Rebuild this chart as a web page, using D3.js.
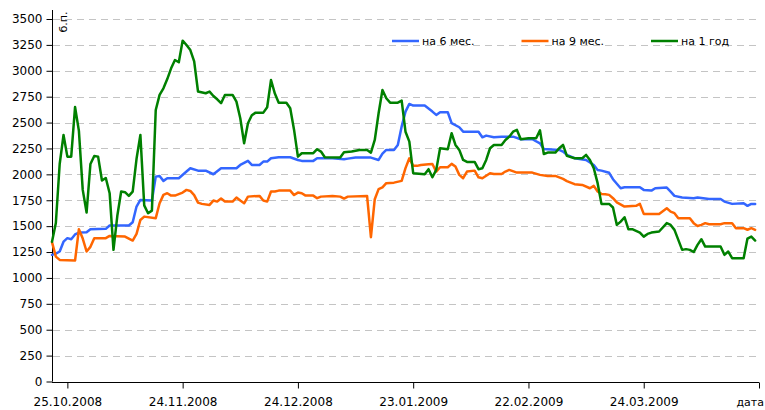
<!DOCTYPE html>
<html lang="ru">
<head>
<meta charset="utf-8">
<title>Спреды: на 6 мес., на 9 мес., на 1 год</title>
<script src="https://d3js.org/d3.v7.min.js"></script>
<style>
    body { margin: 0; background: #fff; }
    text { font-family: "DejaVu Sans", sans-serif; font-size: 12px; fill: #000; }
    .grid line { stroke: #c4c4c4; stroke-width: 1.2px; stroke-dasharray: 7,5; }
    .axis path { display: none; }
    .axis line { stroke: #000; }
    .series { fill: none; stroke-width: 2.5px; stroke-linejoin: round; stroke-linecap: round; }
</style>
</head>
<body>
<script type="text/javascript">

    var w = 765;
    var h = 410;

    // day number counted from 21.10.2008, value in б.п.
    var startDate = new Date(2008, 9, 21);
    var endDate = new Date(2009, 3, 23);

    var seriesNames = ["на 6 мес.", "на 9 мес.", "на 1 год"];
    var seriesColors = ["#3366ff", "#ff6600", "#008000"];

    var months6 = [[0,1223],[1,1235],[2,1255],[3,1350],[4,1384],[5,1374],[6,1420],[7,1438],[9,1442],[10,1471],
        [14,1474],[15,1506],[20,1506],[21,1538],[22,1689],[23,1753],[26,1747],[27,1978],[28,1985],[29,1937],
        [30,1963],[33,1963],[35,2027],[36,2059],[38,2036],[40,2036],[42,2001],[44,2059],[48,2059],[49,2091],
        [51,2130],[52,2091],[54,2091],[55,2123],[56,2123],[57,2156],[59,2165],[62,2165],[64,2139],[65,2130],
        [68,2130],[69,2156],[73,2156],[76,2146],[77,2152],[79,2162],[83,2162],[85,2139],[86,2200],[87,2236],
        [89,2236],[90,2284],[91,2461],[92,2606],[93,2680],[94,2664],[97,2664],[99,2606],[100,2574],[101,2600],
        [103,2600],[104,2494],[106,2455],[107,2412],[111,2412],[112,2358],[113,2374],[115,2358],[117,2364],[120,2364],
        [122,2339],[125,2339],[127,2300],[128,2245],[132,2236],[133,2220],[134,2188],[136,2156],[139,2139],[141,2091],
        [142,2043],[143,2036],[145,2015],[146,1953],[148,1866],[149,1876],[153,1876],[154,1850],[156,1843],[157,1866],
        [160,1872],[161,1834],[162,1792],[164,1776],[167,1770],[168,1776],[171,1763],[174,1763],[175,1737],[177,1715],
        [180,1721],[181,1696],[182,1715],[183,1715]];

    var months9 = [[0,1345],[1,1206],[2,1174],[6,1168],[7,1470],[8,1380],[9,1255],[10,1300],[11,1384],[14,1384],
        [15,1406],[19,1399],[21,1361],[22,1425],[23,1560],[24,1592],[27,1577],[28,1721],[29,1802],[30,1818],
        [31,1795],[32,1795],[34,1824],[35,1850],[36,1840],[37,1800],[38,1727],[39,1715],[41,1705],[42,1747],
        [43,1737],[44,1766],[45,1737],[47,1737],[48,1776],[49,1747],[50,1721],[51,1785],[54,1792],[55,1747],
        [56,1737],[57,1834],[58,1834],[59,1843],[62,1843],[63,1800],[64,1824],[65,1818],[66,1795],[68,1795],
        [69,1770],[70,1785],[73,1790],[75,1785],[76,1766],[77,1785],[82,1792],[83,1393],[84,1760],[85,1857],
        [86,1875],[87,1915],[89,1920],[91,1937],[92,2060],[93,2155],[94,2082],[95,2082],[96,2091],[98,2098],
        [99,2100],[100,2027],[101,2069],[103,2069],[104,2101],[105,2075],[106,1995],[107,1963],[108,2027],[110,2036],
        [111,1972],[112,1963],[114,2011],[115,2004],[117,2004],[118,2027],[119,2043],[121,2017],[125,2017],[127,1995],
        [129,1985],[131,1985],[133,1956],[134,1935],[136,1905],[138,1898],[140,1866],[141,1889],[142,1834],[143,1811],
        [144,1808],[145,1802],[146,1770],[147,1730],[149,1689],[152,1696],[153,1715],[154,1618],[158,1618],[160,1673],
        [161,1640],[162,1625],[163,1577],[166,1577],[167,1529],[168,1502],[169,1512],[170,1529],[171,1519],[174,1519],
        [175,1529],[177,1529],[178,1480],[180,1480],[181,1465],[182,1480],[183,1464]];

    var year1 = [[0,1350],[1,1530],[2,2100],[3,2380],[4,2171],[5,2171],[6,2650],[7,2420],[8,1850],[9,1631],
        [10,2100],[11,2178],[12,2171],[13,1940],[14,1965],[15,1818],[16,1271],[17,1600],[18,1834],[19,1828],
        [20,1792],[21,1834],[22,2150],[23,2381],[24,1700],[25,1625],[26,1650],[27,2622],[28,2767],[29,2831],
        [30,2920],[31,3024],[32,3104],[33,3082],[34,3291],[35,3249],[36,3200],[37,3090],[38,2800],[40,2783],
        [41,2799],[42,2757],[43,2725],[44,2687],[45,2767],[47,2767],[48,2702],[49,2542],[50,2300],[51,2494],
        [52,2570],[53,2596],[55,2596],[56,2648],[57,2911],[58,2780],[59,2692],[61,2692],[62,2638],[63,2429],
        [64,2171],[65,2204],[68,2204],[69,2243],[70,2220],[71,2165],[75,2162],[76,2214],[78,2220],[80,2236],
        [82,2236],[83,2210],[84,2332],[85,2590],[86,2815],[87,2735],[88,2692],[90,2692],[91,2712],[92,2412],
        [93,2316],[94,2011],[97,2001],[98,2050],[99,1972],[100,2043],[101,2252],[103,2243],[104,2397],[105,2284],
        [106,2236],[107,2139],[108,2120],[110,2120],[111,2050],[112,2059],[113,2139],[114,2252],[115,2284],[117,2284],
        [118,2332],[119,2364],[120,2412],[121,2429],[122,2339],[124,2349],[126,2349],[127,2425],[128,2197],[129,2210],
        [131,2210],[132,2252],[133,2284],[134,2178],[136,2156],[138,2156],[139,2188],[140,2139],[141,2059],[142,1915],
        [143,1715],[145,1715],[146,1680],[147,1512],[148,1544],[149,1586],[150,1471],[151,1471],[153,1438],[154,1399],
        [155,1425],[156,1438],[158,1448],[160,1529],[161,1512],[162,1464],[163,1367],[164,1271],[165,1278],[166,1271],
        [167,1250],[168,1319],[169,1374],[170,1303],[174,1303],[175,1223],[176,1255],[177,1191],[180,1191],[181,1380],
        [182,1399],[183,1361]];

    var yTicks = d3.range(0, 3501, 250);
    var xTickLabels = ["25.10.2008", "24.11.2008", "24.12.2008", "23.01.2009", "22.02.2009", "24.03.2009"];
    var xTitle = "дата";

    var svg = d3.select("body")
            .append("svg")
            .attr("width", w)
            .attr("height", h);

    var x = d3.scaleTime().domain([startDate, endDate]).range([52, 759]);
    var y = d3.scaleLinear().domain([0, 3500]).range([381.5, 19]);

    // dashed grid
    svg.append("g")
            .attr("class", "grid")
            .selectAll("line")
            .data(yTicks.filter(function (d) { return d > 0; }))
            .enter()
            .append("line")
            .attr("x1", 53)
            .attr("x2", 757)
            .attr("y1", function (d) { return Math.round(y(d)) + 0.5; })
            .attr("y2", function (d) { return Math.round(y(d)) + 0.5; });

    // y axis
    svg.append("g")
            .attr("class", "axis")
            .attr("transform", "translate(52.5,0)")
            .call(d3.axisLeft(y).tickValues(yTicks).tickSize(6).tickPadding(4).tickFormat(d3.format("d")));

    svg.append("line")
            .attr("x1", 52.5).attr("x2", 52.5)
            .attr("y1", 10).attr("y2", y(0))
            .attr("stroke", "#000");

    // x axis, a tick every 30 days
    var xTicks = d3.range(0, 7).map(function (i) { return d3.timeDay.offset(new Date(2008, 9, 25), 30 * i); });

    svg.append("g")
            .attr("class", "axis")
            .attr("transform", "translate(0," + (Math.round(y(0)) + 0.5) + ")")
            .call(d3.axisBottom(x).tickValues(xTicks).tickSize(6).tickPadding(9)
                    .tickFormat(function (d, i) { return xTickLabels[i] || ""; }));

    svg.append("line")
            .attr("x1", 52).attr("x2", 759)
            .attr("y1", Math.round(y(0)) + 0.5).attr("y2", Math.round(y(0)) + 0.5)
            .attr("stroke", "#000");

    svg.append("text")
            .attr("x", 764)
            .attr("y", 406)
            .attr("text-anchor", "end")
            .style("font-size", "11px")
            .text(xTitle);

    svg.append("text")
            .attr("transform", "translate(67,22) rotate(-90)")
            .attr("text-anchor", "middle")
            .style("font-size", "11px")
            .text("б.п.");

    // lines
    var line = d3.line()
            .x(function (d) { return x(d3.timeDay.offset(startDate, d[0])); })
            .y(function (d) { return y(d[1]); });

    var allSeries = [months6, months9, year1];

    svg.selectAll("path.series")
            .data(allSeries)
            .enter()
            .append("path")
            .attr("class", "series")
            .attr("stroke", function (d, i) { return seriesColors[i]; })
            .attr("d", line);

    // legend
    var legend = svg.selectAll("g.legend")
            .data(seriesNames)
            .enter()
            .append("g")
            .attr("class", "legend")
            .attr("transform", function (d, i) { return "translate(" + (392 + i * 129.5) + ",41)"; });

    legend.append("line")
            .attr("x1", 0).attr("x2", 27)
            .attr("stroke-width", 2.5)
            .attr("stroke", function (d, i) { return seriesColors[i]; });

    legend.append("text")
            .attr("x", 30)
            .attr("dy", "0.35em")
            .style("font-size", "11px")
            .text(function (d) { return d; });

</script>
</body>
</html>
